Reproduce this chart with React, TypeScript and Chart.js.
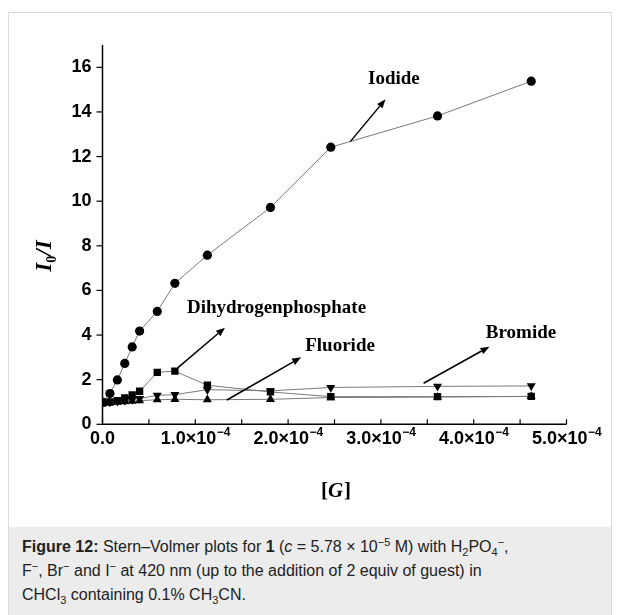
import React, { useEffect, useRef } from "react";
import { Chart, registerables } from "chart.js";
Chart.register(...registerables);

// guest concentration [G], in units of 1e-4 M
const concentrations = [0, 0.08, 0.16, 0.24, 0.32, 0.40, 0.59, 0.78, 1.13, 1.81, 2.46, 3.61, 4.62];
// I0/I values
const iodide = [1.0, 1.38, 1.99, 2.73, 3.47, 4.18, 5.06, 6.32, 7.58, 9.72, 12.42, 13.82, 15.38];
const dihydrogenphosphate = [0.95, 1.0, 1.06, 1.18, 1.32, 1.48, 2.33, 2.38, 1.75, 1.45, 1.24, 1.24, 1.25];
const bromide = [0.97, 1.0, 1.03, 1.07, 1.11, 1.15, 1.3, 1.33, 1.55, 1.5, 1.65, 1.7, 1.72];
const fluoride = [0.95, 0.97, 0.99, 1.01, 1.04, 1.06, 1.1, 1.12, 1.1, 1.12, 1.2, 1.22, 1.25];

const yTickLabels = ["0", "2", "4", "6", "8", "10", "12", "14", "16"];
const xTickMantissas = ["0.0", "1.0", "2.0", "3.0", "4.0", "5.0"];
const xTickExponent = "\u22124";

// annotation labels (data coordinates) and arrows (from -> to, data coordinates)
const annotationTexts = ["Iodide", "Dihydrogenphosphate", "Fluoride", "Bromide"];
const annotationTextX = [3.14, 1.875, 2.56, 4.51];
const annotationTextY = [15.48, 5.21, 3.52, 4.11];
const arrowFromX = [2.67, 0.81, 1.34, 3.46];
const arrowFromY = [12.67, 2.53, 1.09, 1.84];
const arrowToX = [3.05, 1.32, 2.14, 4.17];
const arrowToY = [14.57, 4.33, 3.0, 3.48];

const W = 620;
const H = 527;
const PLOT_LEFT = 102.5;
const PLOT_RIGHT = 566.5;
const PLOT_TOP = 45;
const PLOT_BOTTOM = 424.3;

const SANS = '"Liberation Sans", Arial, sans-serif';
const SERIF = '"Liberation Serif", "Times New Roman", serif';

const decorPlugin = {
  id: "decor",
  afterDraw(chart: any) {
    const ctx = chart.ctx as CanvasRenderingContext2D;
    const xs = chart.scales.x;
    const ys = chart.scales.y;
    const { left, right, top, bottom } = chart.chartArea;
    ctx.save();
    ctx.strokeStyle = "#000";
    ctx.fillStyle = "#000";
    // axis lines
    ctx.lineWidth = 1.5;
    ctx.beginPath();
    ctx.moveTo(left, top);
    ctx.lineTo(left, bottom + 0.5);
    ctx.moveTo(left - 0.5, bottom);
    ctx.lineTo(right, bottom);
    ctx.stroke();
    // y ticks (outward)
    ctx.lineWidth = 1.2;
    ys.ticks.forEach((t: any) => {
      const py = ys.getPixelForValue(t.value);
      const len = Math.round(t.value) % 2 === 0 ? 6 : 3.5;
      ctx.beginPath();
      ctx.moveTo(left - len, py);
      ctx.lineTo(left, py);
      ctx.stroke();
    });
    // x ticks (inward)
    xs.ticks.forEach((t: any) => {
      const px = xs.getPixelForValue(t.value);
      ctx.beginPath();
      ctx.moveTo(px, bottom);
      ctx.lineTo(px, bottom - 5);
      ctx.stroke();
    });
    // x tick labels
    const mainFont = "bold 18px " + SANS;
    const supFont = "bold 12px " + SANS;
    ctx.textBaseline = "alphabetic";
    xTickMantissas.forEach((m, i) => {
      const px = xs.getPixelForValue(i);
      const base = bottom + 20;
      if (i === 0) {
        ctx.font = mainFont;
        ctx.textAlign = "center";
        ctx.fillText(m, px, base);
        return;
      }
      const mainText = m + "\u00d710";
      ctx.font = mainFont;
      const w1 = ctx.measureText(mainText).width;
      ctx.font = supFont;
      const w2 = ctx.measureText(xTickExponent).width;
      const start = px - (w1 + w2) / 2;
      ctx.textAlign = "left";
      ctx.font = mainFont;
      ctx.fillText(mainText, start, base);
      ctx.font = supFont;
      ctx.fillText(xTickExponent, start + w1 + 0.5, base - 8);
    });
    // x axis title [G]
    {
      const base = 497;
      const cx = (left + right) / 2 + 1;
      const f1 = "bold 21px " + SERIF;
      const f2 = "italic bold 21px " + SERIF;
      ctx.font = f1;
      const wb = ctx.measureText("[").width;
      ctx.font = f2;
      const wg = ctx.measureText("G").width;
      const total = wb * 2 + wg;
      let x0 = cx - total / 2;
      ctx.textAlign = "left";
      ctx.font = f1;
      ctx.fillText("[", x0, base);
      ctx.font = f2;
      ctx.fillText("G", x0 + wb, base);
      ctx.font = f1;
      ctx.fillText("]", x0 + wb + wg + 1, base);
    }
    // y axis title I0/I
    {
      ctx.save();
      ctx.translate(51, 256);
      ctx.rotate(-Math.PI / 2);
      const f1 = "italic bold 23px " + SERIF;
      const f2 = "bold 14px " + SERIF;
      ctx.font = f1;
      const wi = ctx.measureText("I").width;
      const ws = ctx.measureText("/I").width;
      ctx.font = f2;
      const w0 = ctx.measureText("0").width;
      const total = wi + w0 + ws;
      let x0 = -total / 2;
      ctx.textAlign = "left";
      ctx.font = f1;
      ctx.fillText("I", x0, 0);
      ctx.font = f2;
      ctx.fillText("0", x0 + wi, 5);
      ctx.font = f1;
      ctx.fillText("/I", x0 + wi + w0, 0);
      ctx.restore();
    }
    // annotations
    ctx.font = "bold 19px " + SERIF;
    ctx.textAlign = "center";
    ctx.textBaseline = "middle";
    annotationTexts.forEach((t, i) => {
      ctx.fillText(t, xs.getPixelForValue(annotationTextX[i]), ys.getPixelForValue(annotationTextY[i]));
    });
    ctx.lineWidth = 1.5;
    annotationTexts.forEach((_, i) => {
      const x1 = xs.getPixelForValue(arrowFromX[i]);
      const y1 = ys.getPixelForValue(arrowFromY[i]);
      const x2 = xs.getPixelForValue(arrowToX[i]);
      const y2 = ys.getPixelForValue(arrowToY[i]);
      const ang = Math.atan2(y2 - y1, x2 - x1);
      const hl = 9;
      const hw = 3.5;
      const bx = x2 - hl * Math.cos(ang);
      const by = y2 - hl * Math.sin(ang);
      ctx.beginPath();
      ctx.moveTo(x1, y1);
      ctx.lineTo(bx, by);
      ctx.stroke();
      ctx.beginPath();
      ctx.moveTo(x2, y2);
      ctx.lineTo(bx + hw * Math.sin(ang), by - hw * Math.cos(ang));
      ctx.lineTo(bx - hw * Math.sin(ang), by + hw * Math.cos(ang));
      ctx.closePath();
      ctx.fill();
    });
    ctx.restore();
  },
};

function makeSeries(values: number[]) {
  return concentrations.map((c, i) => ({ x: c, y: values[i] }));
}

export default function App() {
  const ref = useRef<HTMLCanvasElement | null>(null);
  useEffect(() => {
    if (!ref.current) return;
    const common = {
      showLine: true,
      borderColor: "#7a7a7a",
      borderWidth: 1,
      pointBackgroundColor: "#000",
      pointBorderColor: "#000",
      pointBorderWidth: 0,
      tension: 0,
    };
    const chart = new Chart(ref.current, {
      type: "scatter",
      data: {
        datasets: [
          { ...common, label: "Iodide", data: makeSeries(iodide), pointStyle: "circle", pointRadius: 4.6 },
          { ...common, label: "Dihydrogenphosphate", data: makeSeries(dihydrogenphosphate), pointStyle: "rect", pointRadius: 5.2 },
          { ...common, label: "Bromide", data: makeSeries(bromide), pointStyle: "triangle", pointRadius: 5.2, rotation: 180 },
          { ...common, label: "Fluoride", data: makeSeries(fluoride), pointStyle: "triangle", pointRadius: 5.2 },
        ],
      },
      options: {
        animation: false,
        responsive: false,
        events: [],
        layout: { padding: { left: 0, top: PLOT_TOP, right: W - PLOT_RIGHT, bottom: 0 } },
        plugins: { legend: { display: false }, tooltip: { enabled: false }, title: { display: false } },
        scales: {
          x: {
            type: "linear",
            min: 0,
            max: 5,
            grid: { display: false, drawTicks: false },
            border: { display: false },
            ticks: { display: false, stepSize: 0.5 },
            afterFit: (s: any) => {
              s.height = H - PLOT_BOTTOM;
            },
          },
          y: {
            type: "linear",
            min: 0,
            max: 17,
            grid: { display: false, drawTicks: false },
            border: { display: false },
            ticks: {
              stepSize: 1,
              padding: 11,
              color: "#000",
              font: { family: SANS, size: 18, weight: "bold" },
              callback: (v: any) => (Number(v) % 2 === 0 ? yTickLabels[Number(v) / 2] : ""),
            },
            afterFit: (s: any) => {
              s.width = PLOT_LEFT;
            },
          },
        },
      },
      plugins: [decorPlugin],
    } as any);
    return () => chart.destroy();
  }, []);

  return (
    <div style={{ position: "absolute", left: 0, top: 0, width: W, height: 615, overflow: "hidden", background: "#fff" }}>
      <div
        style={{
          position: "absolute",
          left: 8,
          top: 12,
          width: 604,
          height: 620,
          border: "1px solid #dcdcdc",
          boxSizing: "border-box",
          background: "#fff",
        }}
      />
      <div
        style={{
          position: "absolute",
          left: 9,
          top: 527,
          width: 602,
          height: 100,
          background: "#ececec",
          boxSizing: "border-box",
          padding: "8px 0 0 13px",
          fontFamily: SANS,
          fontSize: 16,
          lineHeight: "24px",
          color: "#222",
        }}
      >
        <b>Figure 12:</b> Stern–Volmer plots for <b>1</b> (<i>c</i> = 5.78 × 10<sup style={{ fontSize: 11, lineHeight: 0 }}>−5</sup> M) with H
        <sub style={{ fontSize: 11, lineHeight: 0 }}>2</sub>PO<sub style={{ fontSize: 11, lineHeight: 0 }}>4</sub>
        <sup style={{ fontSize: 11, lineHeight: 0 }}>−</sup>,<br />F<sup style={{ fontSize: 11, lineHeight: 0 }}>−</sup>, Br
        <sup style={{ fontSize: 11, lineHeight: 0 }}>−</sup> and I<sup style={{ fontSize: 11, lineHeight: 0 }}>−</sup> at 420 nm (up to the
        addition of 2 equiv of guest) in
        <br />
        CHCl<sub style={{ fontSize: 11, lineHeight: 0 }}>3</sub> containing 0.1% CH<sub style={{ fontSize: 11, lineHeight: 0 }}>3</sub>CN.
      </div>
      <canvas ref={ref} width={W} height={H} style={{ position: "absolute", left: 0, top: 0, width: W, height: H }} />
    </div>
  );
}
